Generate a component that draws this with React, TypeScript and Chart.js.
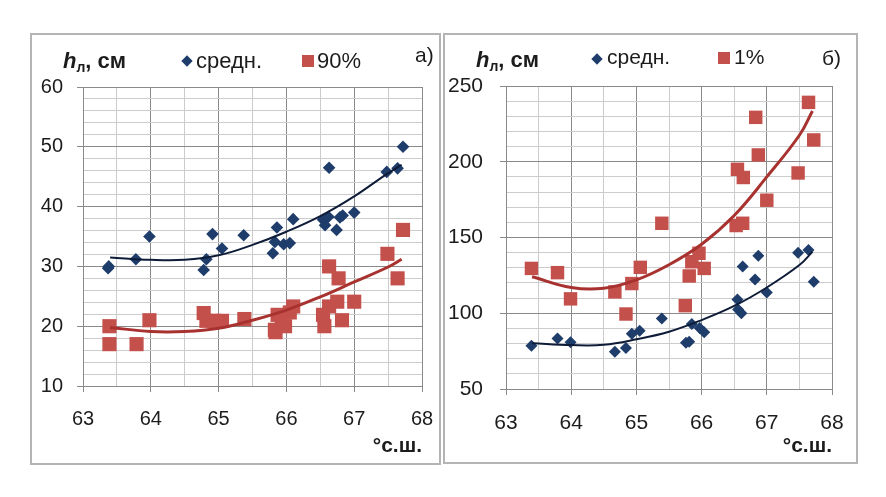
import React, { useEffect, useRef } from "react";
import { Chart, registerables } from "chart.js";
Chart.register(...registerables);

// ---------- data (panel а: mean and 90%) ----------
const leftMeanLat = [63.37, 63.38, 63.78, 63.98, 64.78, 64.82, 64.91, 65.05, 65.37, 65.80, 65.83, 65.86, 65.96, 66.05, 66.10, 66.54, 66.57, 66.62, 66.63, 66.74, 66.79, 66.83, 67.00, 67.48, 67.64, 67.72];
const leftMeanH = [29.7, 30.0, 31.2, 35.0, 29.4, 31.2, 35.4, 33.0, 35.2, 32.2, 34.1, 36.5, 33.7, 33.9, 37.9, 37.8, 36.9, 38.3, 46.5, 36.1, 38.2, 38.5, 39.0, 45.8, 46.4, 50.0];
const left90Lat = [63.39, 63.39, 63.79, 63.98, 64.78, 64.82, 64.93, 65.05, 65.38, 65.83, 65.84, 65.87, 65.93, 65.98, 66.05, 66.10, 66.54, 66.56, 66.63, 66.77, 66.63, 66.75, 66.82, 67.00, 67.49, 67.64, 67.72];
const left90H = [20.0, 17.0, 17.0, 21.0, 22.2, 20.9, 20.9, 20.9, 21.2, 19.4, 19.0, 21.9, 20.8, 20.0, 22.3, 23.3, 21.9, 20.0, 30.0, 28.0, 23.3, 24.1, 21.0, 24.1, 32.1, 28.0, 36.1];
const leftTrendLat = [63.4, 64.0, 64.5, 65.0, 65.5, 66.0, 66.5, 67.0, 67.5, 67.7];
const leftMeanTrend = [31.5, 31.1, 31.1, 31.85, 33.6, 35.8, 38.4, 41.7, 45.6, 47.0];
const left90Trend = [19.8, 19.1, 19.1, 19.65, 21.0, 22.7, 24.9, 27.4, 29.9, 31.2];

// ---------- data (panel б: mean and 1%) ----------
const rightMeanLat = [63.39, 63.79, 63.99, 64.67, 64.84, 64.93, 65.05, 65.39, 65.76, 65.81, 65.85, 65.97, 66.04, 66.55, 66.56, 66.61, 66.63, 66.82, 66.87, 67.00, 67.48, 67.64, 67.72];
const rightMeanH = [78.5, 83.4, 80.8, 74.6, 77.0, 86.5, 88.4, 96.6, 80.5, 81.2, 92.9, 90.2, 87.4, 109.0, 102.5, 100.0, 130.8, 122.2, 138.0, 113.7, 140.0, 141.7, 120.8];
const right1Lat = [63.39, 63.79, 63.99, 64.67, 64.84, 64.93, 65.06, 65.39, 65.75, 65.81, 65.85, 65.96, 66.04, 66.53, 66.63, 66.55, 66.64, 66.83, 66.87, 67.00, 67.48, 67.64, 67.72];
const right1H = [129.6, 126.8, 109.5, 114.1, 99.5, 119.6, 130.3, 159.4, 105.0, 124.6, 134.0, 139.6, 129.6, 157.9, 159.4, 195.0, 189.6, 229.3, 204.5, 174.6, 192.6, 239.2, 214.4];
const rightTrendLat = [63.4, 64.0, 64.5, 65.0, 65.5, 66.0, 66.5, 67.0, 67.5, 67.7];
const rightMeanTrend = [80.2, 79.0, 79.2, 82.8, 87.8, 95.5, 104.8, 117.0, 131.8, 140.6];
const right1Trend = [124.1, 117.0, 116.5, 122.0, 132.0, 145.5, 164.5, 190.0, 217.5, 233.5];

// ---------- axes ----------
const xMin = 63;
const xMax = 68;
const xStep = 0.5;
const leftYMin = 10;
const leftYMax = 60;
const leftYStep = 2;
const leftYMajor = 10;
const rightYMin = 50;
const rightYMax = 250;
const rightYStep = 10;
const rightYMajor = 50;

const labelA = "а)";
const labelB = "б)";
const seriesMean = "средн.";
const series90 = "90%";
const series1 = "1%";
const xTitle = "°с.ш.";

const FONT = '"Liberation Sans", Arial, sans-serif';
const BLUE = "#1f3d6b";
const BLUE_LINE = "#0e1c38";
const RED = "#c4504c";
const RED_LINE = "#a8322f";
const MAJOR = "#8a8a8a";
const MINOR = "#cccccc";
const TEXT = "#1c1c1c";

function toPts(xs: number[], ys: number[]) {
  return xs.map((x, i) => ({ x, y: ys[i] }));
}

type PanelProps = {
  left: number;
  top: number;
  width: number;
  height: number;
  padTop: number;
  padRight: number;
  yWidth: number;
  xHeight: number;
  yMin: number;
  yMax: number;
  yStep: number;
  yMajor: number;
  fontSize: number;
  yPad: number;
  xPad: number;
  titlePad: number;
  meanPts: { x: number; y: number }[];
  extPts: { x: number; y: number }[];
  meanTrend: { x: number; y: number }[];
  extTrend: { x: number; y: number }[];
  meanRadius: number;
  extRadius: number;
};

function Panel(p: PanelProps) {
  const ref = useRef<HTMLCanvasElement | null>(null);
  useEffect(() => {
    if (!ref.current) return;
    const isMajX = (v: number) => Math.abs(v - Math.round(v)) < 1e-6;
    const isMajY = (v: number) => Math.abs(v / p.yMajor - Math.round(v / p.yMajor)) < 1e-6;
    const chart = new Chart(ref.current, {
      type: "scatter",
      data: {
        datasets: [
          {
            label: "trend mean",
            data: p.meanTrend,
            showLine: true,
            borderColor: BLUE_LINE,
            borderWidth: 2,
            pointRadius: 0,
            tension: 0.4,
            order: 1,
          },
          {
            label: "trend ext",
            data: p.extTrend,
            showLine: true,
            borderColor: RED_LINE,
            borderWidth: 3,
            pointRadius: 0,
            tension: 0.4,
            order: 1,
          },
          {
            label: "mean",
            data: p.meanPts,
            pointStyle: "rectRot",
            pointRadius: p.meanRadius,
            backgroundColor: BLUE,
            borderColor: BLUE,
            borderWidth: 0,
            order: 2,
          },
          {
            label: "ext",
            data: p.extPts,
            pointStyle: "rect",
            pointRadius: p.extRadius,
            backgroundColor: RED,
            borderColor: RED,
            borderWidth: 0,
            order: 2,
          },
        ],
      },
      options: {
        animation: false,
        responsive: false,
        devicePixelRatio: 1,
        layout: { padding: { left: 0, top: p.padTop, right: p.padRight, bottom: 0 } },
        plugins: { legend: { display: false }, tooltip: { enabled: false } },
        scales: {
          x: {
            type: "linear",
            min: xMin,
            max: xMax,
            afterFit: (s: any) => {
              s.height = p.xHeight;
              s.paddingLeft = 0;
              s.paddingRight = 0;
            },
            ticks: {
              stepSize: xStep,
              autoSkip: false,
              maxRotation: 0,
              padding: p.xPad,
              color: TEXT,
              font: { family: FONT, size: p.fontSize },
              callback: (v: any) => (isMajX(Number(v)) ? String(Math.round(Number(v))) : ""),
            },
            grid: {
              color: (c: any) => (isMajX(c.tick?.value ?? 0) ? MAJOR : MINOR),
              tickColor: (c: any) => (isMajX(c.tick?.value ?? 0) ? MAJOR : "rgba(0,0,0,0)"),
              tickLength: 6,
              lineWidth: 1,
            },
            border: { color: MAJOR, width: 1 },
            title: {
              display: true,
              text: xTitle,
              align: "end",
              color: TEXT,
              font: { family: FONT, size: 21, weight: "bold" },
              padding: { top: 0, bottom: p.titlePad },
            },
          },
          y: {
            type: "linear",
            min: p.yMin,
            max: p.yMax,
            afterFit: (s: any) => {
              s.width = p.yWidth;
              s.paddingTop = 0;
              s.paddingBottom = 0;
            },
            ticks: {
              stepSize: p.yStep,
              autoSkip: false,
              padding: p.yPad,
              color: TEXT,
              font: { family: FONT, size: p.fontSize },
              callback: (v: any) => (isMajY(Number(v)) ? String(Math.round(Number(v))) : ""),
            },
            grid: {
              color: (c: any) => (isMajY(c.tick?.value ?? 0) ? MAJOR : MINOR),
              tickColor: (c: any) => (isMajY(c.tick?.value ?? 0) ? MAJOR : "rgba(0,0,0,0)"),
              tickLength: 6,
              lineWidth: 1,
            },
            border: { color: MAJOR, width: 1 },
          },
        },
      },
    } as any);
    return () => chart.destroy();
  }, []);
  return (
    <canvas
      ref={ref}
      width={p.width}
      height={p.height}
      style={{ position: "absolute", left: p.left, top: p.top, width: p.width, height: p.height }}
    />
  );
}

const abs = (left: number, top: number, extra: React.CSSProperties = {}): React.CSSProperties => ({
  position: "absolute",
  left,
  top,
  lineHeight: 1,
  whiteSpace: "nowrap",
  color: TEXT,
  ...extra,
});

function Header(props: { x: number; hTop: number; size: number }) {
  const { x, hTop, size } = props;
  return (
    <div style={abs(x, hTop, { fontSize: size, fontWeight: "bold" })}>
      <i>h</i>
      <span style={{ fontSize: 14, position: "relative", top: 4 }}>л</span>, см
    </div>
  );
}

export default function App() {
  return (
    <div
      style={{
        position: "absolute",
        left: 0,
        top: 0,
        width: 886,
        height: 497,
        background: "#fff",
        fontFamily: FONT,
        overflow: "hidden",
      }}
    >
      {/* panel а */}
      <div
        style={{
          position: "absolute",
          left: 30,
          top: 33,
          width: 411,
          height: 432,
          boxSizing: "border-box",
          border: "2px solid #b4b4b4",
        }}
      />
      <Panel
        left={32}
        top={35}
        width={407}
        height={428}
        padTop={52}
        padRight={17}
        yWidth={51}
        xHeight={77}
        yMin={leftYMin}
        yMax={leftYMax}
        yStep={leftYStep}
        yMajor={leftYMajor}
        fontSize={20}
        yPad={14}
        xPad={15}
        titlePad={4}
        meanPts={toPts(leftMeanLat, leftMeanH)}
        extPts={toPts(left90Lat, left90H)}
        meanTrend={toPts(leftTrendLat, leftMeanTrend)}
        extTrend={toPts(leftTrendLat, left90Trend)}
        meanRadius={6.3}
        extRadius={10}
      />
      <Header x={63} hTop={50} size={22} />
      <div
        style={{ position: "absolute", left: 183, top: 57, width: 8, height: 8, background: BLUE, transform: "rotate(45deg)" }}
      />
      <div style={abs(196, 50, { fontSize: 22 })}>{seriesMean}</div>
      <div style={{ position: "absolute", left: 302, top: 55, width: 12, height: 12, background: RED }} />
      <div style={abs(317, 50, { fontSize: 22 })}>{series90}</div>
      <div style={abs(415, 44, { fontSize: 21 })}>{labelA}</div>

      {/* panel б */}
      <div
        style={{
          position: "absolute",
          left: 443,
          top: 33,
          width: 415,
          height: 431,
          boxSizing: "border-box",
          border: "2px solid #b4b4b4",
        }}
      />
      <Panel
        left={445}
        top={35}
        width={411}
        height={427}
        padTop={51}
        padRight={24}
        yWidth={61}
        xHeight={73}
        yMin={rightYMin}
        yMax={rightYMax}
        yStep={rightYStep}
        yMajor={rightYMajor}
        fontSize={21}
        yPad={17}
        xPad={16}
        titlePad={3}
        meanPts={toPts(rightMeanLat, rightMeanH)}
        extPts={toPts(right1Lat, right1H)}
        meanTrend={toPts(rightTrendLat, rightMeanTrend)}
        extTrend={toPts(rightTrendLat, right1Trend)}
        meanRadius={6}
        extRadius={9.5}
      />
      <Header x={476} hTop={49} size={22} />
      <div
        style={{ position: "absolute", left: 593, top: 55, width: 8, height: 8, background: BLUE, transform: "rotate(45deg)" }}
      />
      <div style={abs(607, 46, { fontSize: 21 })}>{seriesMean}</div>
      <div style={{ position: "absolute", left: 718, top: 52, width: 12, height: 12, background: RED }} />
      <div style={abs(734, 46, { fontSize: 21 })}>{series1}</div>
      <div style={abs(822, 47, { fontSize: 21 })}>{labelB}</div>
    </div>
  );
}
